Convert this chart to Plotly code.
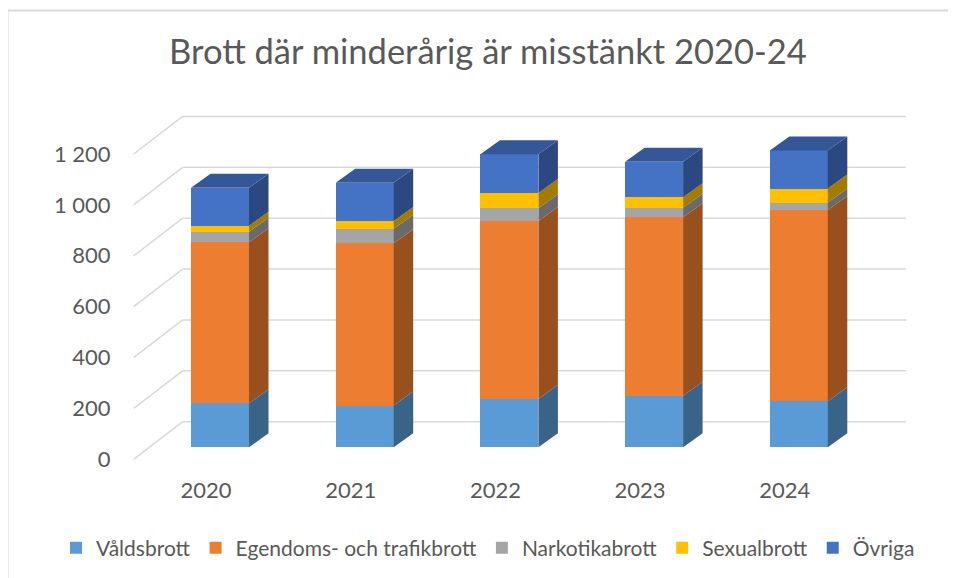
import plotly.graph_objects as go

# ---------------- data ----------------
years = ["2020", "2021", "2022", "2023", "2024"]
valdsbrott = [173, 164, 190, 203, 181]
egendom_trafik = [633, 638, 700, 701, 752]
narkotika = [41, 57, 50, 38, 29]
sexualbrott = [24, 31, 60, 41, 55]
ovriga = [149, 150, 152, 139, 150]

series_names = ["Våldsbrott", "Egendoms- och trafikbrott", "Narkotikabrott", "Sexualbrott", "Övriga"]
series_values = [valdsbrott, egendom_trafik, narkotika, sexualbrott, ovriga]

y_tick_vals = [0, 200, 400, 600, 800, 1000, 1200]
y_tick_text = ["0", "200", "400", "600", "800", "1 000", "1 200"]

title_text = "Brott där minderårig är misstänkt 2020-24"

# ---------------- style ----------------
front_colors = ["#5B9BD5", "#ED7D31", "#A5A5A5", "#FFC000", "#4472C4"]
side_colors = ["#3A6388", "#98501F", "#6A6A6A", "#A37B00", "#2B4980"]
top_colors = ["#4979A6", "#B9622A", "#818181", "#C79600", "#335797"]
text_color = "#595959"
grid_color = "#D9D9D9"
FONT = "Lato"

OFF = 8  # page body margin
W, H = 956 - OFF, 578 - OFF
# target positions in page pixels, converted to figure pixels
PLOT_L, PLOT_R, PLOT_T, PLOT_B = 120 - OFF, 930 - OFF, 100 - OFF, 470 - OFF
PX_PER_CAT = 144.7          # pixel distance between categories
PX_PER_VAL = 0.2544         # pixels per value unit
CAT0_PX = 206.0 - OFF       # pixel x of first category (front plane)
ZERO_PX = 459.3 - OFF       # pixel y of value 0 (front plane)

def dxp(px):  # pixel offset -> x data units
    return px / PX_PER_CAT

def dyp(px):  # pixel offset -> y data units
    return px / PX_PER_VAL

x_range = [(PLOT_L - CAT0_PX) / PX_PER_CAT, (PLOT_R - CAT0_PX) / PX_PER_CAT]
y_range = [(ZERO_PX - PLOT_B) / PX_PER_VAL, (ZERO_PX - PLOT_T) / PX_PER_VAL]

# 3D projection parameters
WALL_DX, WALL_DY = dxp(49), dyp(37.6)     # full depth of floor/walls
FRONT_DX, FRONT_DY = dxp(14), dyp(12)     # depth of bar front faces
SIDE_DX, SIDE_DY = dxp(19.5), dyp(14)     # depth of the bars
BAR_W = dxp(58)

fig = go.Figure()

# ---------------- gridlines (side wall + back wall) ----------------
x_left = -0.5
x_right = len(years) - 0.5
shapes = []
for v in y_tick_vals:
    shapes.append(dict(type="line", xref="x", yref="y", layer="below",
                       x0=x_left, y0=v, x1=x_left + WALL_DX, y1=v + WALL_DY,
                       line=dict(color=grid_color, width=1.5)))
    shapes.append(dict(type="line", xref="x", yref="y", layer="below",
                       x0=x_left + WALL_DX, y0=v + WALL_DY, x1=x_right + WALL_DX, y1=v + WALL_DY,
                       line=dict(color=grid_color, width=1.5)))

def px_to_paper_x(px):
    return (px - OFF - PLOT_L) / (PLOT_R - PLOT_L)

def px_to_paper_y(px):
    return (PLOT_B - (px - OFF)) / (PLOT_B - PLOT_T)

# outer chart border (left and top edges visible)
shapes.append(dict(type="line", xref="paper", yref="paper",
                   x0=px_to_paper_x(7.5), y0=px_to_paper_y(10.5),
                   x1=px_to_paper_x(7.5), y1=px_to_paper_y(600),
                   line=dict(color=grid_color, width=2)))
shapes.append(dict(type="line", xref="paper", yref="paper",
                   x0=px_to_paper_x(7.5), y0=px_to_paper_y(10.5),
                   x1=px_to_paper_x(980), y1=px_to_paper_y(10.5),
                   line=dict(color=grid_color, width=2)))

# ---------------- bars ----------------
n = len(years)
cum = [0] * n
bases = []
for vals in series_values:
    bases.append(list(cum))
    cum = [c + v for c, v in zip(cum, vals)]
totals = cum

xs = list(range(n))
for s, (name, vals) in enumerate(zip(series_names, series_values)):
    base = [b + FRONT_DY for b in bases[s]]
    fig.add_trace(go.Bar(
        x=[i + FRONT_DX for i in xs], y=vals, base=base, width=BAR_W,
        name=name, marker=dict(color=front_colors[s], line=dict(width=0)),
        hovertemplate=name + ": %{y}<extra></extra>"))

for s, vals in enumerate(series_values):
    sx, sy = [], []
    for i in xs:
        xr = i + FRONT_DX + BAR_W / 2
        b = bases[s][i] + FRONT_DY
        t = bases[s][i] + vals[i] + FRONT_DY
        sx += [xr, xr + SIDE_DX, xr + SIDE_DX, xr, xr, None]
        sy += [b, b + SIDE_DY, t + SIDE_DY, t, b, None]
    fig.add_trace(go.Scatter(x=sx, y=sy, mode="lines", fill="toself",
                             fillcolor=side_colors[s], line=dict(width=0, color=side_colors[s]),
                             showlegend=False, hoverinfo="skip"))

# top faces of the stacks
tx, ty = [], []
for i in xs:
    xl = i + FRONT_DX - BAR_W / 2
    xr = i + FRONT_DX + BAR_W / 2
    t = totals[i] + FRONT_DY
    tx += [xl, xl + SIDE_DX, xr + SIDE_DX, xr, xl, None]
    ty += [t, t + SIDE_DY, t + SIDE_DY, t, t, None]
fig.add_trace(go.Scatter(x=tx, y=ty, mode="lines", fill="toself",
                         fillcolor=top_colors[-1], line=dict(width=0, color=top_colors[-1]),
                         showlegend=False, hoverinfo="skip"))

fig.update_layout(
    width=W, height=H,
    margin=dict(l=PLOT_L, r=W - PLOT_R, t=PLOT_T, b=H - PLOT_B, pad=0, autoexpand=False),
    paper_bgcolor="white", plot_bgcolor="white",
    barmode="overlay", bargap=0,
    font=dict(family=FONT, color=text_color),
    shapes=shapes,
    title=dict(text=title_text, x=(488 - OFF) / W, xanchor="center",
               y=1 - (52 - OFF) / H, yanchor="middle",
               xref="container", yref="container",
               font=dict(family=FONT, size=34.5, color=text_color)),
    legend=dict(orientation="h", x=px_to_paper_x(56), xanchor="left",
                y=px_to_paper_y(548), yanchor="middle", bgcolor="rgba(0,0,0,0)",
                font=dict(family=FONT, size=21, color=text_color),
                traceorder="normal", itemsizing="constant"),
    xaxis=dict(range=x_range, tickvals=xs, ticktext=years, showgrid=False, zeroline=False,
               showline=False, ticks="outside", ticklen=1, tickcolor="rgba(0,0,0,0)",
               tickfont=dict(family=FONT, size=22, color=text_color), fixedrange=True),
    yaxis=dict(range=y_range, tickvals=y_tick_vals, ticktext=y_tick_text, showgrid=False,
               zeroline=False, showline=False, ticks="outside", ticklen=4,
               tickcolor="rgba(0,0,0,0)",
               tickfont=dict(family=FONT, size=22, color=text_color), fixedrange=True),
)

fig.write_html("out.html")
